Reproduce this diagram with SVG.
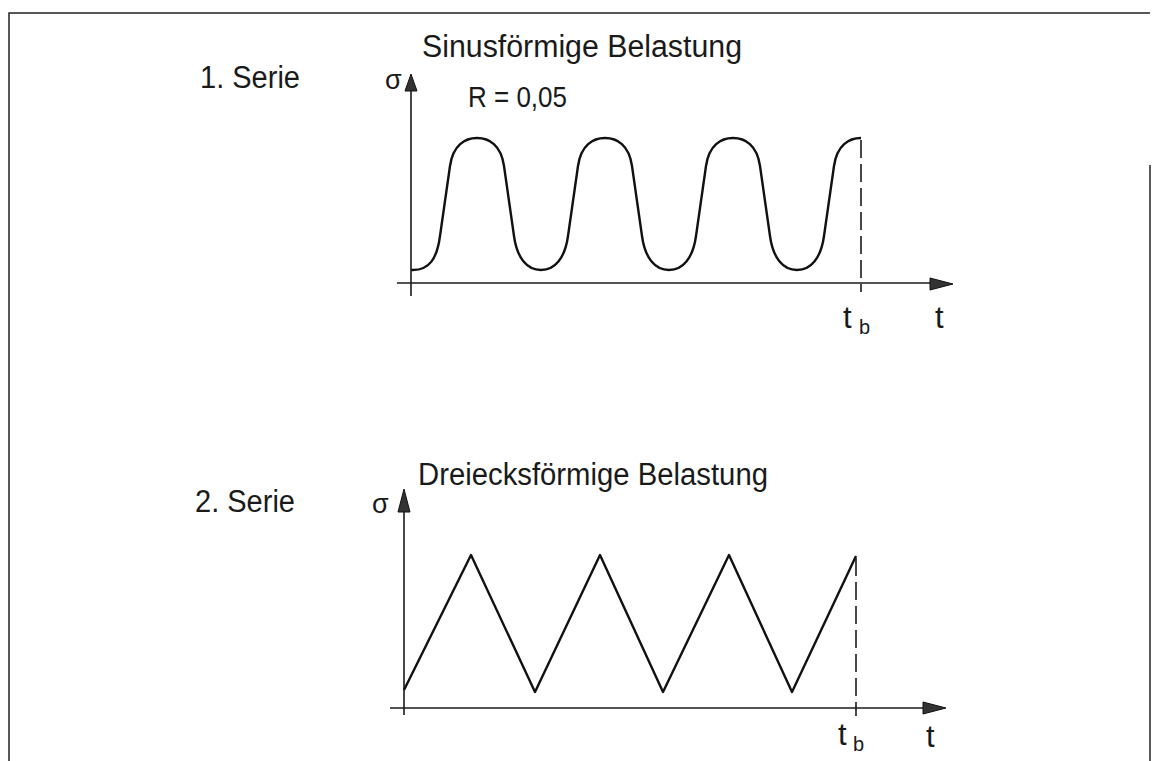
<svg xmlns="http://www.w3.org/2000/svg" width="1152" height="761" viewBox="0 0 1152 761">
<style>
.t{font-family:"Liberation Sans","DejaVu Sans",sans-serif;fill:#1a1a1a;}
.ax{stroke:#1a1a1a;stroke-width:1.6;fill:none;}
.cv{stroke:#111;stroke-width:2.4;fill:none;stroke-linejoin:round;}
.dash{stroke:#1a1a1a;stroke-width:1.6;fill:none;stroke-dasharray:18 6;}
.ah{fill:#333;stroke:#111;stroke-width:1;}
.fr{stroke:#222;stroke-width:1.5;fill:none;}
</style>
<rect width="1152" height="761" fill="#fff"/>
<g id="frame">
<path class="fr" d="M9,761 L9,13 L1150,13"/>
<path class="fr" d="M1150,165 L1150,761"/>
</g>
<g id="series1">
<text class="t" x="200" y="88" font-size="31" textLength="100" lengthAdjust="spacingAndGlyphs">1. Serie</text>
<text class="t" x="422" y="57" font-size="31" textLength="320" lengthAdjust="spacingAndGlyphs">Sinusförmige Belastung</text>
<text class="t" x="468" y="107" font-size="29" textLength="99" lengthAdjust="spacingAndGlyphs">R = 0,05</text>
<text class="t" x="385" y="89" font-size="27">σ</text>
<path class="ax" d="M411,296 L411,88"/>
<polygon class="ah" points="411,74 417,91 405,91"/>
<path class="ax" d="M397,283 L932,283"/>
<polygon class="ah" points="953,284 930,278 930,290"/>
<path class="cv" d="M411,270 L413,270 C429,270 437,259 440,236 L450,166 C453,145 465,138 477,138 C489,138 501,145 504,166 L514,236 C517,258 527,270 541,270 C555,270 565,258 568,236 L578,166 C581,145 593,138 605,138 C617,138 629,145 632,166 L642,236 C645,258 655,270 669,270 C683,270 693,258 696,236 L706,166 C709,145 721,138 733,138 C745,138 757,145 760,166 L770,236 C773,258 783,270 797,270 C811,270 821,258 824,236 L834,166 C837,145 849,138 861,138"/>
<path class="dash" d="M861,140 L861,292"/>
<text class="t" x="843" y="328" font-size="31">t</text>
<text class="t" x="859" y="334" font-size="20">b</text>
<text class="t" x="935" y="328" font-size="31">t</text>
</g>
<g id="series2">
<text class="t" x="195" y="512" font-size="31" textLength="100" lengthAdjust="spacingAndGlyphs">2. Serie</text>
<text class="t" x="418" y="485" font-size="31" textLength="350" lengthAdjust="spacingAndGlyphs">Dreiecksförmige Belastung</text>
<text class="t" x="372" y="513" font-size="27">σ</text>
<path class="ax" d="M404,715 L404,510"/>
<polygon class="ah" points="404,489 410,512 398,512"/>
<path class="ax" d="M390,708 L925,708"/>
<polygon class="ah" points="946,708 923,702 923,714"/>
<path class="cv" d="M404,690 L471,555 L535,692 L600,555 L663,692 L729,555 L792,692 L856,556"/>
<path class="dash" d="M856,558 L856,716"/>
<text class="t" x="838" y="745" font-size="31">t</text>
<text class="t" x="853" y="751" font-size="20">b</text>
<text class="t" x="926" y="747" font-size="31">t</text>
</g>
</svg>
